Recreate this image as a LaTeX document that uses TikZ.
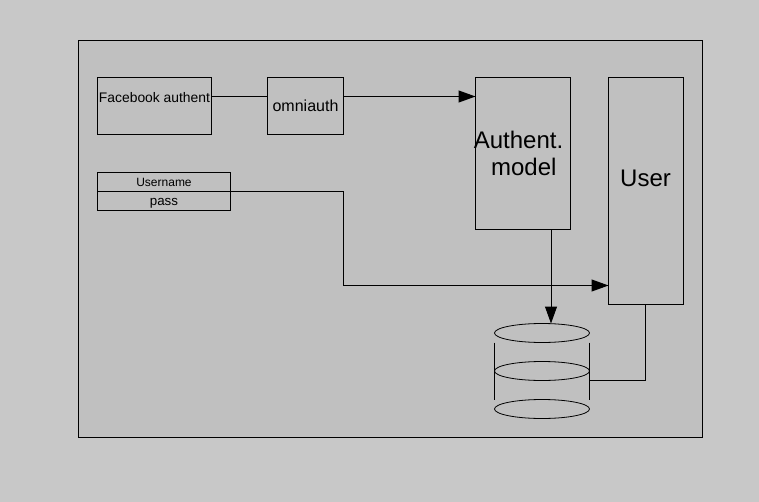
\documentclass[tikz,border=0pt]{standalone}
\usepackage{fontspec}
\setmainfont{Liberation Sans}
\usetikzlibrary{arrows.meta,shapes.geometric}
\definecolor{pagegrey}{HTML}{C8C8C8}
\definecolor{framegrey}{HTML}{C0C0C0}
\tikzset{
    box/.style={draw, anchor=north west, inner sep=0, outer sep=0, line width=0.75pt},
    disc/.style={draw, ellipse, minimum width=71.25pt, minimum height=14.25pt, inner sep=0, outer sep=0, line width=0.6pt},
    link/.style={line width=0.75pt},
    arrowlink/.style={link, -{Triangle[length=12.75pt,width=9pt]}}
}

\begin{document}
\begin{tikzpicture}[x=0.75pt, y=-0.75pt]
    \fill[pagegrey] (0,0) rectangle (759,502);
    \useasboundingbox (0,0) rectangle (759,502);
    \node[box, fill=framegrey, minimum width=468pt, minimum height=297.75pt] (frame) at (78.5,40.5) {};

    \node[box, minimum width=85.5pt, minimum height=42.75pt] (facebook) at (97.5,77.5) {};
    \node[box, minimum width=57pt, minimum height=42.75pt, font=\fontsize{12}{14}\selectfont] (omniauth) at (267.5,77.5) {omniauth};
    \node[box, minimum width=71.25pt, minimum height=114pt] (authent) at (475.5,77.5) {};
    \node[box, minimum width=56.25pt, minimum height=170.25pt] (user) at (608.5,77.5) {};
    \node[box, minimum width=99.75pt, minimum height=14.25pt, text height=8.1pt, text depth=2pt, font=\fontsize{9}{11}\selectfont] (username) at (97.5,172.5) {Username};
    \node[box, minimum width=99.75pt, minimum height=14.25pt, text height=8.1pt, text depth=2pt, font=\fontsize{10}{12}\selectfont] (pass) at (97.5,191.5) {pass};

    \node[font=\fontsize{10.4}{12}\selectfont] (facebooktext) at (154.5,97.5) {Facebook authent};
    \node[font=\fontsize{18}{20.25}\selectfont, align=center] (authenttext) at (518.5,153.5) {Authent.\\ \ \,model};
    \node[font=\fontsize{18}{20}\selectfont] (usertext) at (645.5,178) {User};

    % database
    \foreach \n/\y in {1/333, 2/371, 3/409}{
        \node[disc] (db\n) at (542,\y) {};
    }
    \draw[link] (db1.west |- 0,342.5) -- (db3.west |- 0,399.5);
    \draw[link] (db1.east |- 0,342.5) -- (db3.east |- 0,399.5);

    \coordinate (toprow) at (0,96.5);
    \coordinate (busrow) at (0,285.5);
    \coordinate (dbrow) at (0,380.5);
    \coordinate (dropcol) at (551,0);
    \coordinate (usercol) at (645.5,0);

    \draw[link] (facebook.east |- toprow) -- (omniauth.west |- toprow);
    \draw[arrowlink] (omniauth.east |- toprow) -- (authent.west |- toprow);
    \draw[arrowlink] (pass.north east) -- (omniauth.east |- pass.north) -- (omniauth.east |- busrow) -- (user.west |- busrow);
    \draw[arrowlink] (dropcol |- authent.south) -- (dropcol |- db1.north);
    \draw[link] (usercol |- user.south) -- (usercol |- dbrow) -- (db2.east |- dbrow);
\end{tikzpicture}
\end{document}
